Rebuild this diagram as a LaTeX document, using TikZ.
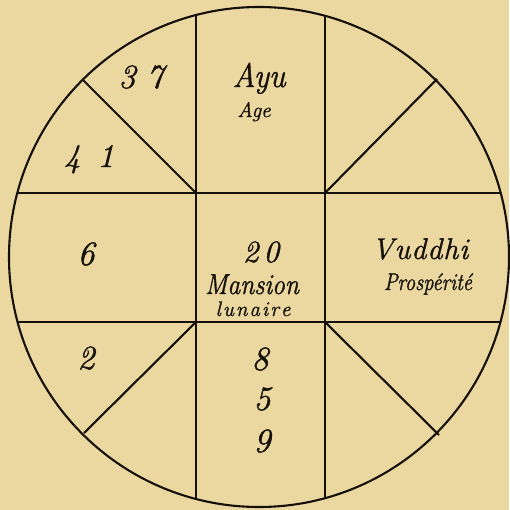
\documentclass[tikz,border=0pt]{standalone}
\usepackage{graphicx}
\usepackage{fontspec}
\setmainfont{Latin Modern Roman}[ItalicFeatures={FakeBold=1.2}]
\definecolor{paper}{RGB}{234,216,160}
\definecolor{ink}{RGB}{22,16,10}
\tikzset{
  rule/.style={draw=ink, line width=2.1pt},
  lbl/.style={text=ink, inner sep=0pt, anchor=base, font=\itshape},
}
\newcommand{\narr}[2]{\scalebox{#1}[1]{#2}}
\newcommand{\fsz}[1]{\fontsize{#1}{#1}\selectfont}
\begin{document}
\begin{tikzpicture}[x=1pt,y=-1pt]
\fill[paper] (0,0) rectangle (509,510);
\useasboundingbox (0,0) rectangle (509,510);
\coordinate (c) at (259,257);
\coordinate (tl) at (196,193);
\coordinate (tr) at (325,193);
\coordinate (bl) at (196,322);
\coordinate (br) at (325,322);
\coordinate (ptl) at (83,80);
\coordinate (ptr) at (437,79);
\coordinate (pbl) at (84,433);
\coordinate (pbr) at (439,435);
% circle
\draw[rule] (c) circle [radius=250];
% grid lines clipped to circle
\begin{scope}
\clip (c) circle [radius=250];
\draw[rule] (196,0) -- (196,510);
\draw[rule] (325,0) -- (325,510);
\draw[rule] (0,193) -- (509,193);
\draw[rule] (0,322) -- (509,322);
\end{scope}
% diagonals
\draw[rule] (tl) -- (ptl);
\draw[rule] (tr) -- (ptr);
\draw[rule] (bl) -- (pbl);
\draw[rule] (br) -- (pbr);
% labels
\node[lbl] (n37) at (141,88) {\fsz{34}3\hspace{11pt}7};
\node[lbl] (n41) at (89,167) {\fsz{33}4\hspace{17pt}1};
\node[lbl] (ayu) at (259,87) {\fsz{34}\narr{0.93}{Ayu}};
\node[lbl] (age) at (254,117) {\fsz{21}Age};
\node[lbl] (n6) at (86,265) {\fsz{34}6};
\node[lbl] (n20) at (261,262) {\fsz{31}2\hspace{5pt}0};
\node[lbl] (mansion) at (252,294) {\fsz{29}\narr{0.88}{Mansion}};
\node[lbl] (lunaire) at (253,316) {\fsz{21}l\hspace{2pt}u\hspace{2pt}n\hspace{2pt}a\hspace{2pt}i\hspace{2pt}r\hspace{2pt}e};
\node[lbl] (vuddhi) at (420,259) {\fsz{30}V\hspace{1pt}u\hspace{1pt}d\hspace{1pt}d\hspace{1pt}h\hspace{1pt}i};
\node[lbl] (prosp) at (428,290) {\fsz{24}\narr{0.85}{Prospérité}};
\node[lbl] (n2) at (86,369) {\fsz{34}2};
\node[lbl] (n8) at (260,370) {\fsz{34}8};
\node[lbl] (n5) at (262,410) {\fsz{34}5};
\node[lbl] (n9) at (262,452) {\fsz{34}9};
\end{tikzpicture}
\end{document}
